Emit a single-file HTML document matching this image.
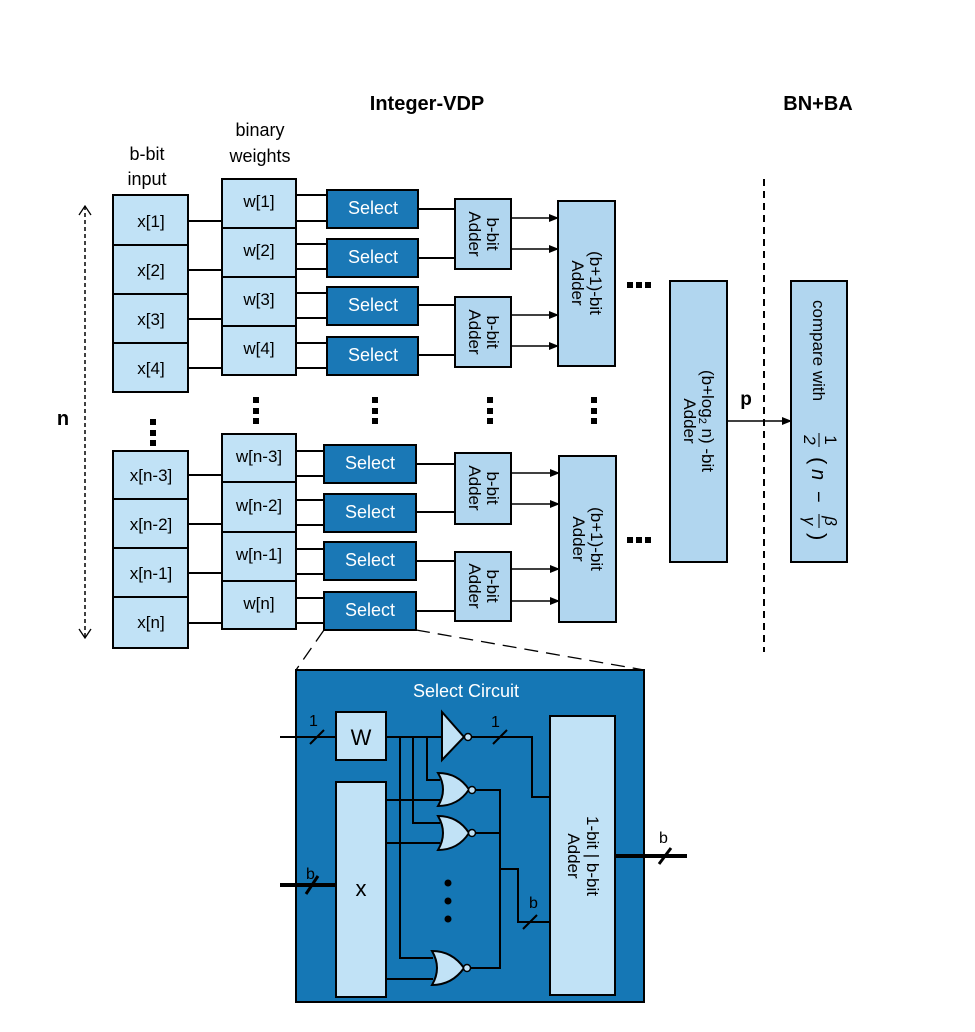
<!DOCTYPE html>
<html><head><meta charset="utf-8"><style>
html,body{margin:0;padding:0;background:#fff}
svg{display:block}
text{font-family:"Liberation Sans",sans-serif}
</style></head><body>
<svg width="975" height="1032" viewBox="0 0 975 1032" xmlns="http://www.w3.org/2000/svg">
<defs>
<marker id="ah" markerWidth="10" markerHeight="8" refX="9" refY="4" orient="auto" markerUnits="userSpaceOnUse">
<path d="M0,0 L10,4 L0,8 Z" fill="#000"/></marker>
</defs>

<!-- titles -->
<text x="427" y="110" font-size="20" font-weight="bold" text-anchor="middle">Integer-VDP</text>
<text x="818" y="110" font-size="20" font-weight="bold" text-anchor="middle">BN+BA</text>
<text x="260" y="136" font-size="18" text-anchor="middle">binary</text>
<text x="260" y="162" font-size="18" text-anchor="middle">weights</text>
<text x="147" y="160" font-size="18" text-anchor="middle">b-bit</text>
<text x="147" y="185" font-size="18" text-anchor="middle">input</text>
<text x="63" y="425" font-size="20" font-weight="bold" text-anchor="middle">n</text>

<!-- dashed n arrow -->
<line x1="85" y1="206" x2="85" y2="638" stroke="#000" stroke-width="1.5" stroke-dasharray="4,3"/>
<path d="M79,215 L85,206 L91,215 M79,629 L85,638 L91,629" fill="none" stroke="#000" stroke-width="1.3"/>

<g stroke="#000" stroke-width="2" fill="none">
<path d="M188,221H222M188,270H222M188,319H222M188,368H222M188,475H222M188,524H222M188,573H222M188,623H222"/>
<path d="M296,195H327M296,221H327M296,244H327M296,269H327M296,293H327M296,318H327M296,343H327M296,368H327"/>
<path d="M296,451H324M296,476H324M296,500H324M296,525H324M296,549H324M296,574H324M296,598H324M296,623H324"/>
<path d="M418,209H455M418,258H455M418,305H455M418,355H455M416,464H455M416,512H455M416,561H455M416,611H455"/>
</g>
<g stroke="#000" stroke-width="1.5">
<line x1="511" y1="218" x2="558" y2="218" marker-end="url(#ah)"/>
<line x1="511" y1="249" x2="558" y2="249" marker-end="url(#ah)"/>
<line x1="511" y1="315" x2="558" y2="315" marker-end="url(#ah)"/>
<line x1="511" y1="346" x2="558" y2="346" marker-end="url(#ah)"/>
<line x1="511" y1="473" x2="559" y2="473" marker-end="url(#ah)"/>
<line x1="511" y1="504" x2="559" y2="504" marker-end="url(#ah)"/>
<line x1="511" y1="569" x2="559" y2="569" marker-end="url(#ah)"/>
<line x1="511" y1="601" x2="559" y2="601" marker-end="url(#ah)"/>
<line x1="727" y1="421" x2="791" y2="421" marker-end="url(#ah)"/>
</g>
<line x1="764" y1="179" x2="764" y2="652" stroke="#000" stroke-width="2" stroke-dasharray="7,5"/>
<text x="746" y="405" font-size="19" font-weight="bold" text-anchor="middle">p</text>

<g fill="#c1e2f6" stroke="#000" stroke-width="2">
<rect x="113" y="195" width="75" height="50"/><rect x="113" y="245" width="75" height="49"/>
<rect x="113" y="294" width="75" height="49"/><rect x="113" y="343" width="75" height="49"/>
<rect x="113" y="451" width="75" height="48"/><rect x="113" y="499" width="75" height="49"/>
<rect x="113" y="548" width="75" height="49"/><rect x="113" y="597" width="75" height="51"/>
<rect x="222" y="179" width="74" height="49"/><rect x="222" y="228" width="74" height="49"/>
<rect x="222" y="277" width="74" height="49"/><rect x="222" y="326" width="74" height="49"/>
<rect x="222" y="434" width="74" height="48"/><rect x="222" y="482" width="74" height="50"/>
<rect x="222" y="532" width="74" height="49"/><rect x="222" y="581" width="74" height="48"/>
</g>
<g font-size="17" text-anchor="middle">
<text x="151" y="227">x[1]</text><text x="151" y="276">x[2]</text><text x="151" y="325">x[3]</text><text x="151" y="374">x[4]</text>
<text x="151" y="481">x[n-3]</text><text x="151" y="530">x[n-2]</text><text x="151" y="579">x[n-1]</text><text x="151" y="628">x[n]</text>
<text x="259" y="207">w[1]</text><text x="259" y="256">w[2]</text><text x="259" y="305">w[3]</text><text x="259" y="354">w[4]</text>
<text x="259" y="462">w[n-3]</text><text x="259" y="511">w[n-2]</text><text x="259" y="560">w[n-1]</text><text x="259" y="609">w[n]</text>
</g>
<g fill="#1a78b6" stroke="#000" stroke-width="2">
<rect x="327" y="190" width="91" height="38"/><rect x="327" y="239" width="91" height="38"/>
<rect x="327" y="287" width="91" height="38"/><rect x="327" y="337" width="91" height="38"/>
<rect x="324" y="445" width="92" height="38"/><rect x="324" y="494" width="92" height="38"/>
<rect x="324" y="542" width="92" height="38"/><rect x="324" y="592" width="92" height="38"/>
</g>
<g font-size="18" fill="#fff" text-anchor="middle">
<text x="373" y="214">Select</text><text x="373" y="263">Select</text><text x="373" y="311">Select</text><text x="373" y="361">Select</text>
<text x="370" y="469">Select</text><text x="370" y="518">Select</text><text x="370" y="566">Select</text><text x="370" y="616">Select</text>
</g>
<g fill="#b1d6ef" stroke="#000" stroke-width="2">
<rect x="455" y="199" width="56" height="70"/><rect x="455" y="297" width="56" height="70"/>
<rect x="455" y="453" width="56" height="71"/><rect x="455" y="552" width="56" height="69"/>
<rect x="558" y="201" width="57" height="165"/><rect x="559" y="456" width="57" height="166"/>
<rect x="670" y="281" width="57" height="281"/><rect x="791" y="281" width="56" height="281"/>
</g>
<g font-size="17" text-anchor="middle">
<text transform="translate(483,234) rotate(90)"><tspan x="0" y="-4">b-bit</tspan><tspan x="0" y="14">Adder</tspan></text>
<text transform="translate(483,332) rotate(90)"><tspan x="0" y="-4">b-bit</tspan><tspan x="0" y="14">Adder</tspan></text>
<text transform="translate(483,488) rotate(90)"><tspan x="0" y="-4">b-bit</tspan><tspan x="0" y="14">Adder</tspan></text>
<text transform="translate(483,586) rotate(90)"><tspan x="0" y="-4">b-bit</tspan><tspan x="0" y="14">Adder</tspan></text>
<text transform="translate(586,283) rotate(90)"><tspan x="0" y="-4">(b+1)-bit</tspan><tspan x="0" y="14">Adder</tspan></text>
<text transform="translate(587,539) rotate(90)"><tspan x="0" y="-4">(b+1)-bit</tspan><tspan x="0" y="14">Adder</tspan></text>
<text transform="translate(698,421) rotate(90)"><tspan x="0" y="-4">(b+log<tspan font-size="11" dy="3">2</tspan><tspan dy="-3"> n) -bit</tspan></tspan><tspan x="0" y="14">Adder</tspan></text>
</g>
<g transform="translate(819,421) rotate(90)" font-size="17">
<text x="-121" y="6">compare with</text>
<text x="19" y="-6" text-anchor="middle" font-family="Liberation Serif">1</text>
<line x1="12" y1="0" x2="26" y2="0" stroke="#000" stroke-width="1"/>
<text x="19" y="15" text-anchor="middle" font-family="Liberation Serif" font-style="italic">2</text>
<text x="36" y="8" font-size="22" font-family="Liberation Serif">(</text>
<text x="48" y="7" font-size="20" font-family="Liberation Serif" font-style="italic">n</text>
<text x="70" y="7" font-size="20" font-family="Liberation Serif">−</text>
<text x="100" y="-6" text-anchor="middle" font-family="Liberation Serif" font-style="italic">β</text>
<line x1="93" y1="0" x2="107" y2="0" stroke="#000" stroke-width="1"/>
<text x="100" y="15" text-anchor="middle" font-family="Liberation Serif" font-style="italic">γ</text>
<text x="112" y="8" font-size="22" font-family="Liberation Serif">)</text>
</g>

<g fill="#000">
<rect x="150" y="419" width="6" height="6"/><rect x="150" y="430" width="6" height="6"/><rect x="150" y="440" width="6" height="6"/>
<rect x="253" y="397" width="6" height="6"/><rect x="253" y="408" width="6" height="6"/><rect x="253" y="418" width="6" height="6"/>
<rect x="372" y="397" width="6" height="6"/><rect x="372" y="408" width="6" height="6"/><rect x="372" y="418" width="6" height="6"/>
<rect x="487" y="397" width="6" height="6"/><rect x="487" y="408" width="6" height="6"/><rect x="487" y="418" width="6" height="6"/>
<rect x="591" y="397" width="6" height="6"/><rect x="591" y="408" width="6" height="6"/><rect x="591" y="418" width="6" height="6"/>
<rect x="627" y="282" width="6" height="6"/><rect x="636" y="282" width="6" height="6"/><rect x="645" y="282" width="6" height="6"/>
<rect x="627" y="537" width="6" height="6"/><rect x="636" y="537" width="6" height="6"/><rect x="645" y="537" width="6" height="6"/>
</g>

<g stroke="#000" stroke-width="1.3" stroke-dasharray="14,8">
<line x1="324" y1="630" x2="296" y2="670"/><line x1="416" y1="630" x2="644" y2="670"/>
</g>

<rect x="296" y="670" width="348" height="332" fill="#1577b5" stroke="#000" stroke-width="2"/>
<text x="466" y="697" font-size="18" fill="#fff" text-anchor="middle">Select Circuit</text>
<g stroke="#000" stroke-width="2" fill="none">
<path d="M280,737H336"/>
<path d="M386,737H442M400,737V958H433M413,737V823H440M427,737V780H440"/>
<path d="M386,800H440M386,843H440M386,979H433"/>
<path d="M472,737H532V797H550"/>
<path d="M474,790H500V968H469M474,833H500M500,869H518V922H550"/>
</g>
<path d="M280,885H336" stroke="#000" stroke-width="4"/>
<path d="M615,856H687" stroke="#000" stroke-width="4"/>
<g stroke="#000" stroke-width="2">
<line x1="310" y1="744" x2="324" y2="730"/>
<line x1="493" y1="744" x2="507" y2="730"/>
<line x1="523" y1="929" x2="537" y2="915"/>
</g>
<g stroke="#000" stroke-width="3">
<line x1="306" y1="894" x2="318" y2="876"/>
<line x1="659" y1="864" x2="671" y2="848"/>
</g>
<g font-size="16" fill="#000">
<text x="309" y="726">1</text><text x="491" y="727">1</text>
<text x="306" y="879">b</text><text x="529" y="908">b</text><text x="659" y="843">b</text>
</g>
<g fill="#c1e2f6" stroke="#000" stroke-width="2">
<rect x="336" y="712" width="50" height="48"/>
<rect x="336" y="782" width="50" height="215"/>
<rect x="550" y="716" width="65" height="279"/>
<path d="M442,712 L464,737 L442,760 Z"/>
<path d="M438,773 Q448,789.5 438,806 Q458,806 469,789.5 Q458,773 438,773 Z"/>
<path d="M438,816 Q448,833 438,850 Q458,850 469,833 Q458,816 438,816 Z"/>
<path d="M432,951 Q442,968 432,985 Q452,985 464,968 Q452,951 432,951 Z"/>
</g>
<g fill="#c1e2f6" stroke="#000" stroke-width="1.5">
<circle cx="468" cy="737" r="3.5"/><circle cx="472" cy="790" r="3.5"/>
<circle cx="472" cy="833" r="3.5"/><circle cx="467" cy="968" r="3.5"/>
</g>
<text x="361" y="745" font-size="22" text-anchor="middle">W</text>
<text x="361" y="896" font-size="22" text-anchor="middle">x</text>
<text transform="translate(582,856) rotate(90)" font-size="17" text-anchor="middle"><tspan x="0" y="-5">1-bit | b-bit</tspan><tspan x="0" y="14">Adder</tspan></text>
<g fill="#000"><circle cx="448" cy="883" r="3.5"/><circle cx="448" cy="901" r="3.5"/><circle cx="448" cy="919" r="3.5"/></g>
</svg>
</body></html>
